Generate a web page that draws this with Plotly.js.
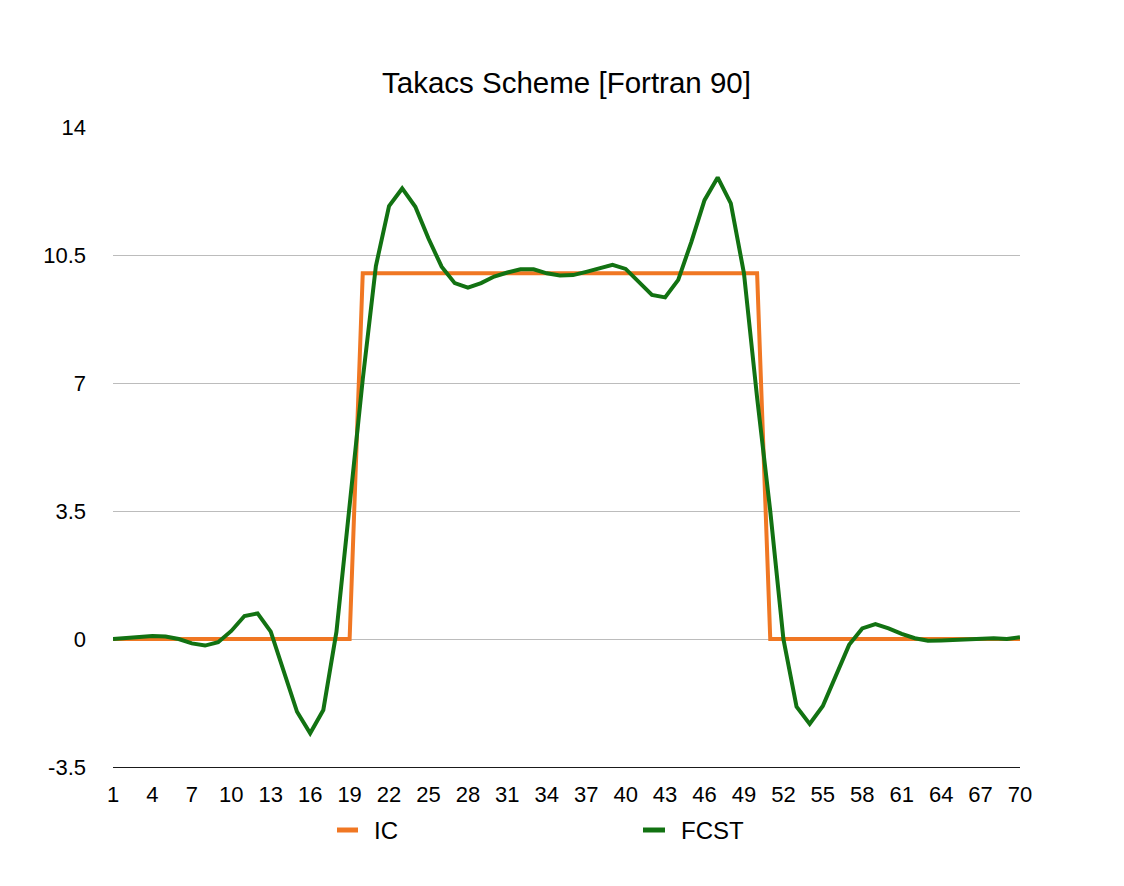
<!DOCTYPE html>
<html>
<head>
<meta charset="utf-8">
<script src="https://cdn.plot.ly/plotly-3.0.1.min.js"></script>
<style>
  html, body { margin: 0; padding: 0; background: #ffffff; }
  #chart { width: 1124px; height: 886px; }
</style>
</head>
<body>
<div id="chart"></div>
<script>
// Category positions (grid points)
const points = [1,2,3,4,5,6,7,8,9,10,11,12,13,14,15,16,17,18,19,20,
  21,22,23,24,25,26,27,28,29,30,31,32,33,34,35,36,37,38,39,40,
  41,42,43,44,45,46,47,48,49,50,51,52,53,54,55,56,57,58,59,60,
  61,62,63,64,65,66,67,68,69,70];

// Initial condition (square wave)
const icValues = [0,0,0,0,0,0,0,0,0,0,0,0,0,0,0,0,0,0,0,10,
  10,10,10,10,10,10,10,10,10,10,10,10,10,10,10,10,10,10,10,10,
  10,10,10,10,10,10,10,10,10,10,0,0,0,0,0,0,0,0,0,0,
  0,0,0,0,0,0,0,0,0,0];

// Forecast (Takacs scheme)
const fcstValues = [0.0,0.02,0.05,0.08,0.07,0.0,-0.12,-0.18,-0.09,0.22,
  0.63,0.70,0.2,-0.89,-1.99,-2.58,-1.94,0.2,3.6,7.1,
  10.2,11.84,12.32,11.82,10.95,10.18,9.73,9.61,9.73,9.91,
  10.02,10.11,10.11,10.0,9.94,9.95,10.04,10.14,10.23,10.12,
  9.77,9.41,9.34,9.82,10.86,12.0,12.62,11.91,10.0,6.6,
  3.5,0.0,-1.85,-2.32,-1.83,-0.98,-0.16,0.29,0.41,0.29,
  0.14,0.02,-0.05,-0.04,-0.02,0.0,0.02,0.02,0.0,0.05];

const seriesNames = ['IC', 'FCST'];
const seriesColors = ['#F07723', '#127212'];

const xTickVals = [1,4,7,10,13,16,19,22,25,28,31,34,37,40,43,46,49,52,55,58,61,64,67,70];
const xTickText = ["1","4","7","10","13","16","19","22","25","28","31","34","37","40","43","46","49","52","55","58","61","64","67","70"];
const yTickVals = [-3.5, 0, 3.5, 7, 10.5, 14];
const yTickText = ["-3.5", "0", "3.5", "7", "10.5", "14"];

const FONT = '"Liberation Sans", Arial, Helvetica, sans-serif';

// plot area geometry (pixels) used to place the hand-drawn legend
const PL = 113, PR = 1020, PT = 127, PB = 767;
const px2x = p => (p - PL) / (PR - PL);
const py2y = p => (PB - p) / (PB - PT);

const traces = [
  {
    x: points, y: icValues, name: seriesNames[0], type: 'scatter', mode: 'lines',
    line: { color: seriesColors[0], width: 4 }
  },
  {
    x: points, y: fcstValues, name: seriesNames[1], type: 'scatter', mode: 'lines',
    line: { color: seriesColors[1], width: 4 }
  }
];

const legendY = py2y(830);
const legendItems = [
  { sw0: 337, sw1: 358, tx: 372 },
  { sw0: 643, sw1: 665, tx: 679 }
];

const shapes = legendItems.map((it, i) => ({
  type: 'line', xref: 'paper', yref: 'paper',
  x0: px2x(it.sw0), x1: px2x(it.sw1), y0: legendY, y1: legendY,
  line: { color: seriesColors[i], width: 5 }
}));

const annotations = legendItems.map((it, i) => ({
  xref: 'paper', yref: 'paper', x: px2x(it.tx), y: legendY,
  xanchor: 'left', yanchor: 'middle', showarrow: false,
  text: seriesNames[i],
  font: { family: FONT, size: 24, color: '#000000' }
}));

const layout = {
  width: 1124, height: 886,
  paper_bgcolor: '#ffffff', plot_bgcolor: '#ffffff',
  margin: { l: PL, r: 1124 - PR, t: PT, b: 886 - PB },
  font: { family: FONT, color: '#000000', size: 22 },
  title: {
    text: 'Takacs Scheme [Fortran 90]',
    font: { family: FONT, size: 29.5, color: '#000000' },
    x: 0.5, xanchor: 'center', xref: 'paper',
    y: 1 - 83 / 886, yanchor: 'middle', yref: 'container'
  },
  xaxis: {
    range: [1, 70],
    tickmode: 'array', tickvals: xTickVals, ticktext: xTickText,
    showgrid: false, zeroline: false,
    showline: true, linecolor: '#1a1a1a', linewidth: 1,
    ticks: '', ticklabelstandoff: 8,
    tickfont: { family: FONT, size: 22, color: '#000000' },
    fixedrange: true
  },
  yaxis: {
    range: [-3.5, 14],
    tickmode: 'array', tickvals: yTickVals, ticktext: yTickText,
    showgrid: true, gridcolor: '#bcbcbc', gridwidth: 1,
    zeroline: false, showline: false,
    ticks: '', ticklabelstandoff: 26,
    tickfont: { family: FONT, size: 22, color: '#000000' },
    fixedrange: true
  },
  showlegend: false,
  shapes: shapes,
  annotations: annotations
};

Plotly.newPlot('chart', traces, layout, { displayModeBar: false, staticPlot: true });
</script>
</body>
</html>
